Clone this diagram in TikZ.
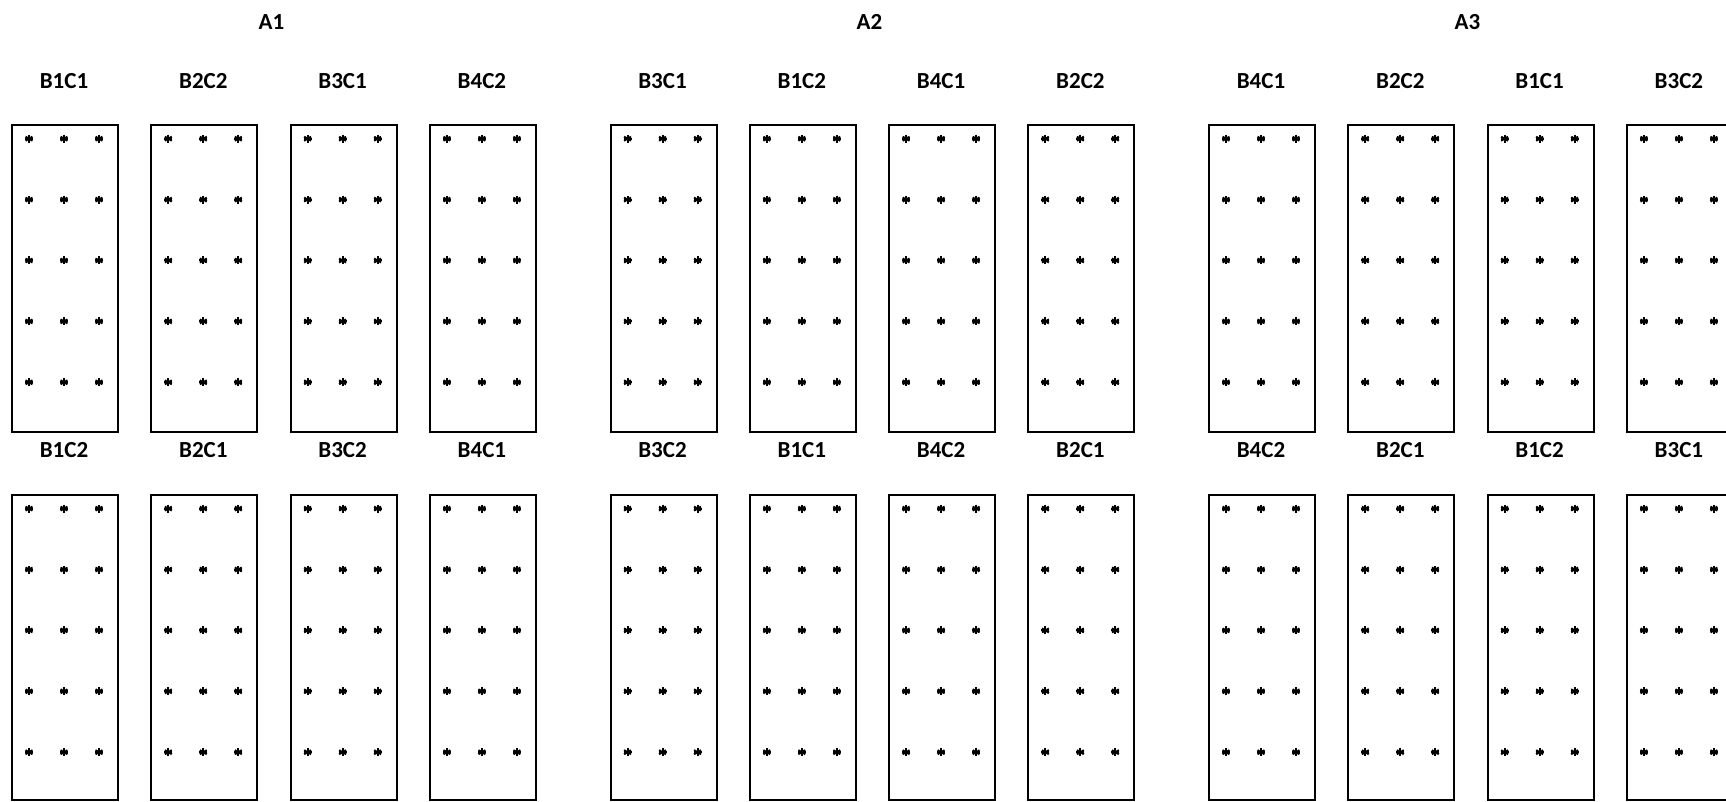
\documentclass[tikz,border=0pt]{standalone}
\usepackage{fontspec}
\setmainfont{Carlito}
\begin{document}
\begin{tikzpicture}[x=1pt,y=-1pt,
  plot/.style={draw, line width=2pt, minimum width=106pt, minimum height=307pt, inner sep=0pt, anchor=north west},
  lowplot/.style={plot, minimum height=305pt},
  lab/.style={font=\fontsize{23}{27}\selectfont\bfseries, inner sep=0pt},
  star/.pic={\foreach \a in {90,30,150,0}{\draw[line width=2pt] (\a:4pt) -- (\a+180:4pt);}}]
\useasboundingbox (0,0) rectangle (1726,802);
\foreach \g/\gl/\tl/\bl in {0/A1/{B1C1,B2C2,B3C1,B4C2}/{B1C2,B2C1,B3C2,B4C1},
                            1/A2/{B3C1,B1C2,B4C1,B2C2}/{B3C2,B1C1,B4C2,B2C1},
                            2/A3/{B4C1,B2C2,B1C1,B3C2}/{B4C2,B2C1,B1C2,B3C1}}{
  \node[lab] (g\gl) at ({271.5+598*\g},22) {\gl};
  \foreach \t [count=\i from 0] in \tl {
    \pgfmathsetmacro{\L}{11+598.5*\g+139.3*\i}
    \pgfmathsetmacro{\C}{\L+53}
    \node[lab] (t\g\i) at (\C,81.5) {\t};
    \node[plot] (bt\g\i) at (\L,124) {};
    \foreach \r in {0,...,4}{
      \foreach \dx in {-35,0,35}{
        \pic at ({\C+\dx},{138.7+60.9*\r}) {star};
      }
    }
  }
  \foreach \b [count=\i from 0] in \bl {
    \pgfmathsetmacro{\L}{11+598.5*\g+139.3*\i}
    \pgfmathsetmacro{\C}{\L+53}
    \node[lab] (u\g\i) at (\C,450) {\b};
    \node[lowplot] (bb\g\i) at (\L,494) {};
    \foreach \r in {0,...,4}{
      \foreach \dx in {-35,0,35}{
        \pic at ({\C+\dx},{508.6+60.9*\r}) {star};
      }
    }
  }
}
\end{tikzpicture}
\end{document}
